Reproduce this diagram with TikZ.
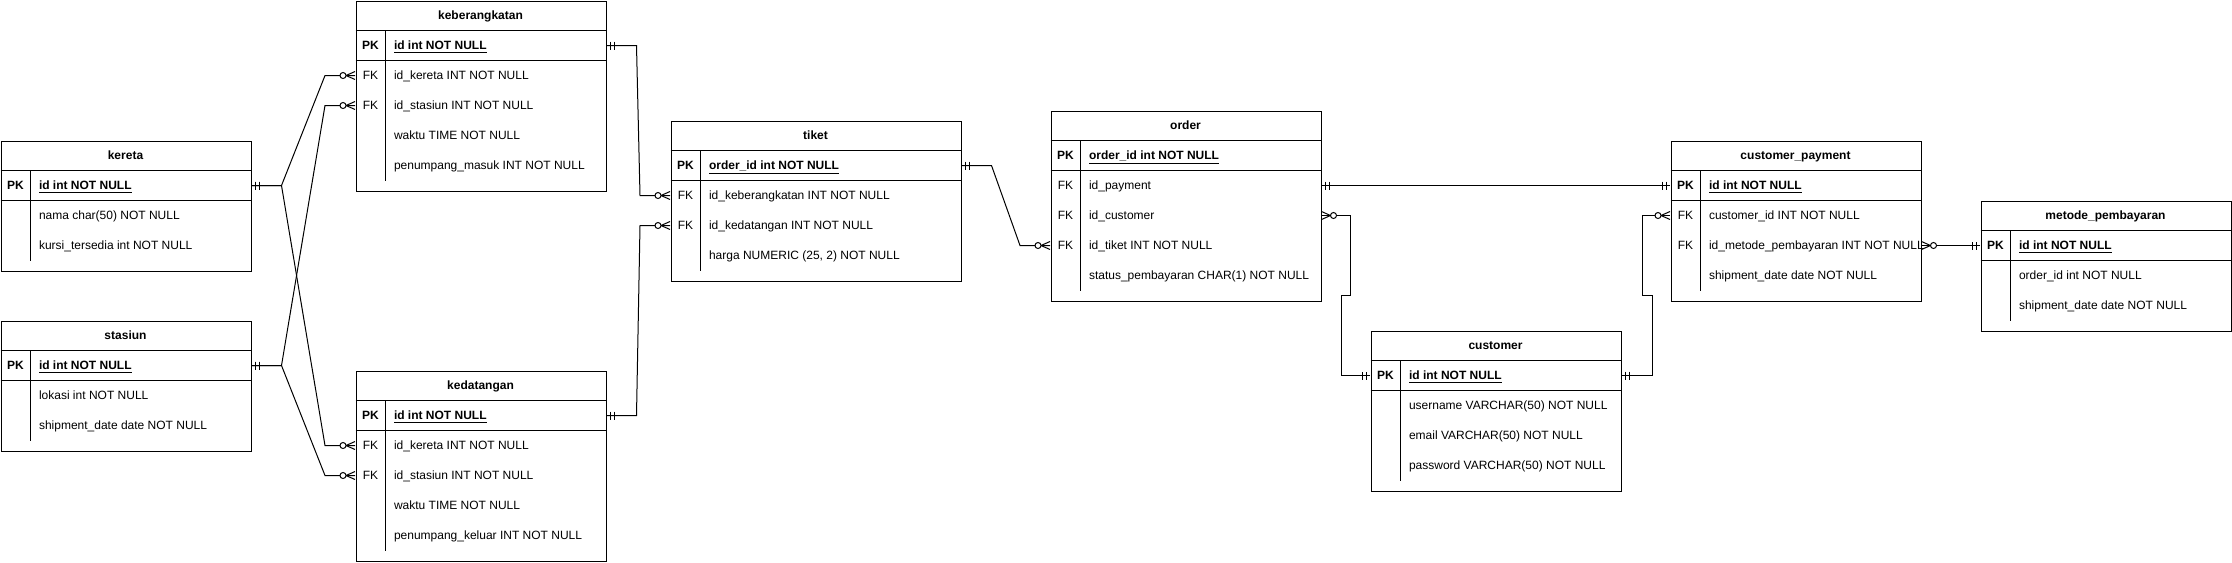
\documentclass[tikz,border=0pt]{standalone}
\usepackage{fontspec}
\setmainfont{Liberation Sans}
\usetikzlibrary{calc, positioning, decorations.markings}

\begin{document}
\begin{tikzpicture}[x=0.75pt, y=-0.75pt, line width=0.75pt,
    every node/.style={font=\fontsize{9pt}{11pt}\selectfont, inner sep=0pt, text height=6.5pt, text depth=0pt},
    tbl/.style={draw, anchor=north west, minimum width=187.5pt},
    ttl/.style={font=\fontsize{9pt}{11pt}\selectfont\bfseries},
    key/.style={minimum width=22.5pt},
    fld/.style={anchor=west},
    pk/.style={font=\fontsize{9pt}{11pt}\selectfont\bfseries},
    erone/.style={postaction={decorate, decoration={markings, mark=at position 0 with {\draw (4,-4) -- (4,4) (8,-4) -- (8,4);}}}},
    eroneend/.style={postaction={decorate, decoration={markings, mark=at position 1 with {\draw (-4,-4) -- (-4,4) (-8,-4) -- (-8,4);}}}},
    ermany/.style={postaction={decorate, decoration={markings, mark=at position 1 with {\draw (-9,0) -- (0,-4) (-9,0) -- (0,4); \draw[fill=white] (-12,0) circle[radius=3];}}}}]
\path[use as bounding box, fill=white] (-0.5,-0.5) rectangle (2231.5,561.5);

% kereta
\node[tbl, minimum height=97.5pt] (kereta) at (0,140) {};
\node[ttl] (kereta-t) at (125,155) {kereta};
\draw (0,170) -- ++(250,0) (0,200) -- ++(250,0) (30,170) -- (30,260);
\node[key, pk] (kereta-k0) at (15,185) {PK};
\node[fld, pk] (kereta-0) at (38,185) {\underline{id int NOT NULL}};
\foreach \f [count=\i] in {nama char(50) NOT NULL, kursi\_tersedia int NOT NULL}
  \node[fld] (kereta-\i) at (38,185+30*\i) {\f};

% stasiun
\node[tbl, minimum height=97.5pt] (stasiun) at (0,320) {};
\node[ttl] (stasiun-t) at (125,335) {stasiun};
\draw (0,350) -- ++(250,0) (0,380) -- ++(250,0) (30,350) -- (30,440);
\node[key, pk] (stasiun-k0) at (15,365) {PK};
\node[fld, pk] (stasiun-0) at (38,365) {\underline{id int NOT NULL}};
\foreach \f [count=\i] in {lokasi int NOT NULL, shipment\_date date NOT NULL}
  \node[fld] (stasiun-\i) at (38,365+30*\i) {\f};

% keberangkatan
\node[tbl, minimum height=142.5pt] (keb) at (355,0) {};
\node[ttl] (keb-t) at (480,15) {keberangkatan};
\draw (355,30) -- ++(250,0) (355,60) -- ++(250,0) (385,30) -- (385,180);
\node[key, pk] (keb-k0) at (370,45) {PK};
\node[fld, pk] (keb-0) at (393,45) {\underline{id int NOT NULL}};
\foreach \i in {1,2} \node[key] (keb-k\i) at (370,45+30*\i) {FK};
\foreach \f [count=\i] in {id\_kereta INT NOT NULL, id\_stasiun INT NOT NULL, waktu TIME NOT NULL, penumpang\_masuk INT NOT NULL}
  \node[fld] (keb-\i) at (393,45+30*\i) {\f};

% kedatangan
\node[tbl, minimum height=142.5pt] (datang) at (355,370) {};
\node[ttl] (datang-t) at (480,385) {kedatangan};
\draw (355,400) -- ++(250,0) (355,430) -- ++(250,0) (385,400) -- (385,550);
\node[key, pk] (datang-k0) at (370,415) {PK};
\node[fld, pk] (datang-0) at (393,415) {\underline{id int NOT NULL}};
\foreach \i in {1,2} \node[key] (datang-k\i) at (370,415+30*\i) {FK};
\foreach \f [count=\i] in {id\_kereta INT NOT NULL, id\_stasiun INT NOT NULL, waktu TIME NOT NULL, penumpang\_keluar INT NOT NULL}
  \node[fld] (datang-\i) at (393,415+30*\i) {\f};

% tiket
\node[tbl, minimum width=217.5pt, minimum height=120pt] (tiket) at (670,120) {};
\node[ttl] (tiket-t) at (815,135) {tiket};
\draw (670,150) -- ++(290,0) (670,180) -- ++(290,0) (700,150) -- (700,270);
\node[key, pk] (tiket-k0) at (685,165) {PK};
\node[fld, pk] (tiket-0) at (708,165) {\underline{order\_id int NOT NULL}};
\foreach \i in {1,2} \node[key] (tiket-k\i) at (685,165+30*\i) {FK};
\foreach \f [count=\i] in {id\_keberangkatan INT NOT NULL, id\_kedatangan INT NOT NULL, {harga NUMERIC (25, 2) NOT NULL}}
  \node[fld] (tiket-\i) at (708,165+30*\i) {\f};

% order
\node[tbl, minimum width=202.5pt, minimum height=142.5pt] (order) at (1050,110) {};
\node[ttl] (order-t) at (1185,125) {order};
\draw (1050,140) -- ++(270,0) (1050,170) -- ++(270,0) (1080,140) -- (1080,290);
\node[key, pk] (order-k0) at (1065,155) {PK};
\node[fld, pk] (order-0) at (1088,155) {\underline{order\_id int NOT NULL}};
\foreach \i in {1,2,3} \node[key] (order-k\i) at (1065,155+30*\i) {FK};
\foreach \f [count=\i] in {id\_payment, id\_customer, id\_tiket INT NOT NULL, status\_pembayaran CHAR(1) NOT NULL}
  \node[fld] (order-\i) at (1088,155+30*\i) {\f};

% customer
\node[tbl, minimum height=120pt] (cust) at (1370,330) {};
\node[ttl] (cust-t) at (1495,345) {customer};
\draw (1370,360) -- ++(250,0) (1370,390) -- ++(250,0) (1400,360) -- (1400,480);
\node[key, pk] (cust-k0) at (1385,375) {PK};
\node[fld, pk] (cust-0) at (1408,375) {\underline{id int NOT NULL}};
\foreach \f [count=\i] in {username VARCHAR(50) NOT NULL, email VARCHAR(50) NOT NULL, password VARCHAR(50) NOT NULL}
  \node[fld] (cust-\i) at (1408,375+30*\i) {\f};

% customer_payment
\node[tbl, minimum height=120pt] (cpay) at (1670,140) {};
\node[ttl] (cpay-t) at (1795,155) {customer\_payment};
\draw (1670,170) -- ++(250,0) (1670,200) -- ++(250,0) (1700,170) -- (1700,290);
\node[key, pk] (cpay-k0) at (1685,185) {PK};
\node[fld, pk] (cpay-0) at (1708,185) {\underline{id int NOT NULL}};
\foreach \i in {1,2} \node[key] (cpay-k\i) at (1685,185+30*\i) {FK};
\foreach \f [count=\i] in {customer\_id INT NOT NULL, id\_metode\_pembayaran INT NOT NULL, shipment\_date date NOT NULL}
  \node[fld] (cpay-\i) at (1708,185+30*\i) {\f};

% metode_pembayaran
\node[tbl, minimum height=97.5pt] (metode) at (1980,200) {};
\node[ttl] (metode-t) at (2105,215) {metode\_pembayaran};
\draw (1980,230) -- ++(250,0) (1980,260) -- ++(250,0) (2010,230) -- (2010,320);
\node[key, pk] (metode-k0) at (1995,245) {PK};
\node[fld, pk] (metode-0) at (2018,245) {\underline{id int NOT NULL}};
\foreach \f [count=\i] in {order\_id int NOT NULL, shipment\_date date NOT NULL}
  \node[fld] (metode-\i) at (2018,245+30*\i) {\f};

% relations
\draw[erone, ermany] (kereta.east |- kereta-0) -- ++(30,0) -- ($(keb-k1.west)+(-30,0)$) -- (keb-k1.west);
\draw[erone, ermany] (kereta.east |- kereta-0) -- ++(30,0) -- ($(datang-k1.west)+(-30,0)$) -- (datang-k1.west);
\draw[erone, ermany] (stasiun.east |- stasiun-0) -- ++(30,0) -- ($(keb-k2.west)+(-30,0)$) -- (keb-k2.west);
\draw[erone, ermany] (stasiun.east |- stasiun-0) -- ++(30,0) -- ($(datang-k2.west)+(-30,0)$) -- (datang-k2.west);
\draw[erone, ermany] (keb.east |- keb-0) -- ++(30,0) -- ($(tiket-k1.west)+(-30,0)$) -- (tiket-k1.west);
\draw[erone, ermany] (datang.east |- datang-0) -- ++(30,0) -- ($(tiket-k2.west)+(-30,0)$) -- (tiket-k2.west);
\draw[erone, ermany] (tiket.east |- tiket-0) -- ++(30,0) -- ($(order-k3.west)+(-30,0)$) -- (order-k3.west);
\draw[erone, eroneend] (order.east |- order-1) -- (cpay-k0.west);
\draw[erone, ermany] (cust-k0.west) -- ++(-29,0) -- ++(0,-80) -- ++(9,0) |- (order.east |- order-2);
\draw[erone, ermany] (cust.east |- cust-0) -- ++(31,0) -- ++(0,-80) -- ++(-10,0) |- (cpay-k1.west);
\draw[erone, ermany] (metode-k0.west) -- (cpay.east |- cpay-2);
\end{tikzpicture}
\end{document}
